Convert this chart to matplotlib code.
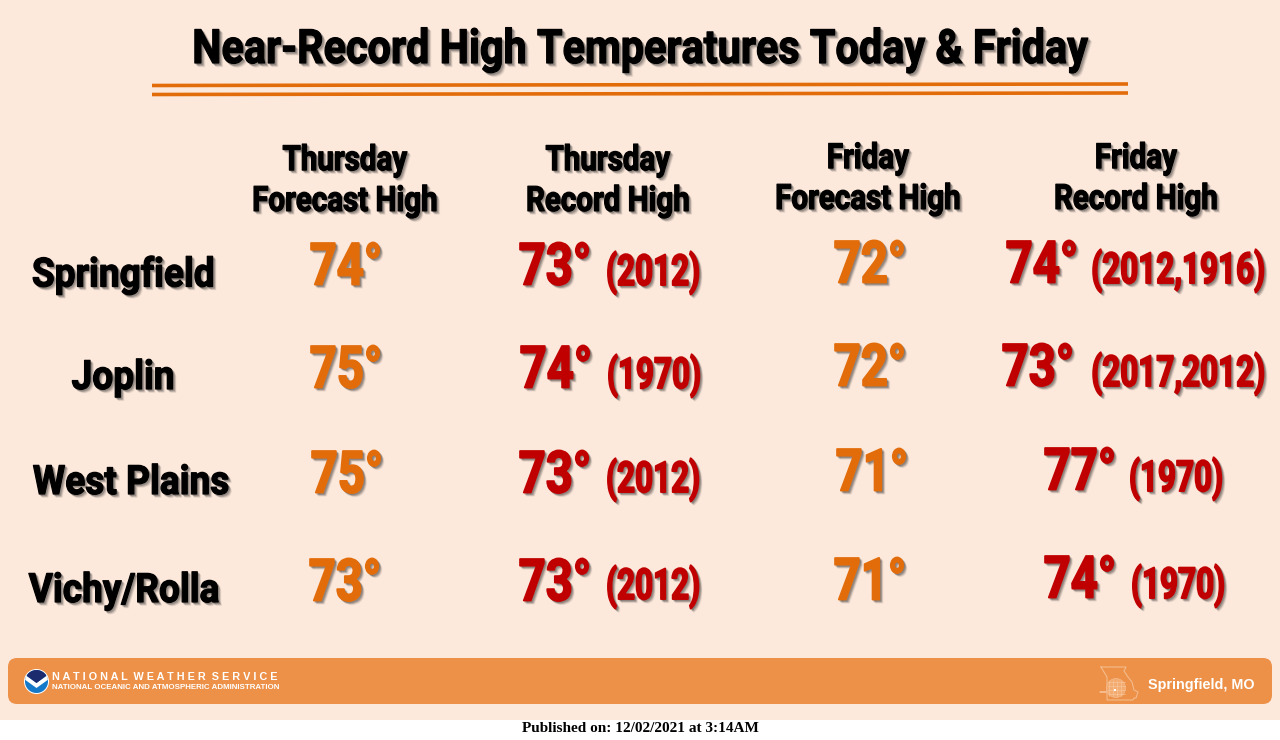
import matplotlib
matplotlib.use('Agg')
import matplotlib.pyplot as plt
from matplotlib.patches import FancyBboxPatch, Circle, Rectangle, Polygon
from matplotlib.patheffects import AbstractPathEffect
from matplotlib.text import Text
from matplotlib.transforms import Affine2D, Bbox

cities = ['Springfield', 'Joplin', 'West Plains', 'Vichy/Rolla']
thu_forecast = [74, 75, 75, 73]
thu_record = [73, 74, 73, 73]
thu_years = ['(2012)', '(1970)', '(2012)', '(2012)']
fri_forecast = [72, 72, 71, 71]
fri_record = [74, 73, 77, 74]
fri_years = ['(2012,1916)', '(2017,2012)', '(1970)', '(1970)']
headers = ['Thursday\nForecast High', 'Thursday\nRecord High', 'Friday\nForecast High', 'Friday\nRecord High']

BG = '#fde9dc'
ORANGE = '#e36c0a'
RED = '#c00000'
BAR = '#ed9148'
FONT = ['Roboto', 'DejaVu Sans']

fig = plt.figure(figsize=(12.8, 7.4), dpi=100, facecolor='white')
ax = fig.add_axes([0, 0, 1, 1])
ax.set_xlim(0, 1280)
ax.set_ylim(740, 0)
ax.axis('off')
ax.add_patch(Rectangle((0, 0), 1280, 720, fc=BG, ec='none', zorder=0))


class NarrowShadow(AbstractPathEffect):
    # squeezes the glyphs sideways (no condensed font here) and adds a soft drop shadow
    def __init__(self, cx, squeeze, off, bold):
        super().__init__()
        self.cx, self.squeeze, self.off, self.bold = cx, squeeze, off, bold

    def draw_path(self, renderer, gc, tpath, affine, rgbFace):
        narrow = affine + Affine2D().translate(-self.cx, 0).scale(self.squeeze, 1).translate(self.cx, 0)
        for k, alpha in ((0.7, 0.12), (1.0, 0.12), (1.35, 0.10), (1.7, 0.08), (2.1, 0.05)):
            gc0 = renderer.new_gc()
            gc0.copy_properties(gc)
            gc0.set_linewidth(self.bold)
            gc0.set_alpha(alpha)
            gc0.set_foreground('#222222')
            shifted = narrow + Affine2D().translate(self.off * k, -self.off * k)
            renderer.draw_path(gc0, tpath, shifted, (0.13, 0.13, 0.13))
            gc0.restore()
        gc1 = renderer.new_gc()
        gc1.copy_properties(gc)
        gc1.set_linewidth(self.bold)
        gc1.set_foreground(rgbFace)
        renderer.draw_path(gc1, tpath, narrow, rgbFace)
        gc1.restore()


class NarrowText(Text):
    # reports the squeezed extent, not the one of the unsqueezed font
    def get_window_extent(self, renderer=None, dpi=None):
        bb = super().get_window_extent(renderer, dpi)
        cx = self.get_transform().transform(self.get_position())[0]
        return Bbox.from_extents(cx + (bb.x0 - cx) * self.squeeze, bb.y0, cx + (bb.x1 - cx) * self.squeeze, bb.y1)


def label(x, y, s, size, squeeze, color='black', off=1.6, bold=0.9, spacing=1.1):
    t = NarrowText(x, y, s, fontsize=size, color=color, ha='center', va='center', family=FONT, weight='bold',
                   linespacing=spacing)
    t.squeeze = squeeze
    ax.add_artist(t)
    cx = ax.transData.transform((x, y))[0]
    t.set_path_effects([NarrowShadow(cx, squeeze, off, bold)])
    return t


label(640, 50, 'Near-Record High Temperatures Today & Friday', 34, 0.876, off=1.8)
ax.plot([152, 1128], [85.5, 84], color=ORANGE, lw=2.6, solid_capstyle='butt')
ax.plot([152, 1128], [94.5, 93], color=ORANGE, lw=2.6, solid_capstyle='butt')

header_x = [345, 608, 868, 1136]
header_y = [181, 181, 179, 179]
for x, y, s in zip(header_x, header_y, headers):
    label(x, y, s, 25, 0.85, spacing=1.3)

city_x = [123, 123, 131, 124]
city_y = [275, 378, 483, 591]
for x, y, s in zip(city_x, city_y, cities):
    label(x, y, s, 29, 0.92)

# forecast columns
tf_x = [346, 346, 347, 345]
tf_y = [269, 372, 477, 585]
ff_x = [870, 870, 872, 870]
ff_y = [267, 370, 475, 584]
for x, y, v in zip(tf_x, tf_y, thu_forecast):
    label(x, y, f'{v}°', 42, 0.81, ORANGE, bold=1.3)
for x, y, v in zip(ff_x, ff_y, fri_forecast):
    label(x, y, f'{v}°', 42, 0.81, ORANGE, bold=1.3)

# record columns
tr_x = [555, 556, 555, 555]
tr_y = [269, 372, 477, 585]
ty_x = [653, 654, 653, 653]
ty_y = [273, 376, 480, 587]
for x, y, v in zip(tr_x, tr_y, thu_record):
    label(x, y, f'{v}°', 42, 0.81, RED, bold=1.3)
for x, y, s in zip(ty_x, ty_y, thu_years):
    label(x, y, s, 31, 0.73, RED, bold=1.2)

fr_x = [1042, 1038, 1080, 1080]
fr_y = [267, 370, 474, 582]
fy_x = [1178, 1178, 1176, 1178]
fy_y = [271, 374, 479, 586]
for x, y, v in zip(fr_x, fr_y, fri_record):
    label(x, y, f'{v}°', 42, 0.81, RED, bold=1.3)
for x, y, s in zip(fy_x, fy_y, fri_years):
    label(x, y, s, 31, 0.73, RED, bold=1.2)

# footer bar
ax.add_patch(FancyBboxPatch((8, 658), 1264, 46, boxstyle='round,pad=0,rounding_size=9', fc=BAR, ec='none', zorder=1))

# NOAA logo
ax.add_patch(Circle((36.5, 681.5), 12.5, fc='white', ec='none', zorder=2))
logo_clip = Circle((36.5, 681.5), 11.5, transform=ax.transData)
blue = Rectangle((24, 669), 25, 25, fc='#1479c9', ec='none', zorder=3)
ax.add_patch(blue)
blue.set_clip_path(logo_clip)
swoosh = Polygon([[24, 674], [36.5, 683], [49, 674], [49, 679], [36.5, 688], [24, 679]], fc='white', ec='none', zorder=4)
ax.add_patch(swoosh)
swoosh.set_clip_path(logo_clip)
navy = Polygon([[27, 669], [46, 669], [46, 676], [36.5, 683], [27, 676]], fc='#1c2a6e', ec='none', zorder=5)
ax.add_patch(navy)
navy.set_clip_path(logo_clip)

ax.text(52, 676.5, 'N A T I O N A L  W E A T H E R  S E R V I C E', fontsize=7.85, color='white',
        family=['Liberation Sans'], weight='bold', va='center', ha='left')
ax.text(52, 687.5, 'NATIONAL OCEANIC AND ATMOSPHERIC ADMINISTRATION', fontsize=5.65, color='white',
        family=['Liberation Sans'], weight='bold', va='center', ha='left')

# Missouri outline and county grid
mo_x = [1101, 1126, 1124, 1128, 1132, 1134, 1138, 1136, 1134, 1133, 1107, 1107, 1100, 1107, 1107, 1101]
mo_y = [667, 667, 671, 677, 682, 690, 692, 698, 698, 700, 700, 692, 692, 692, 677, 667]
ax.plot(mo_x, mo_y, color='#f5bb8c', lw=0.8, zorder=2)
ax.add_patch(Circle((1116, 688), 9.5, fc='#f3ab70', ec='#f5bb8c', lw=0.5, zorder=2))
for gx in range(1109, 1125, 4):
    ax.plot([gx, gx], [681, 696], color='#f7c9a0', lw=0.4, zorder=3)
for gy in range(682, 697, 4):
    ax.plot([1108, 1125], [gy, gy], color='#f7c9a0', lw=0.4, zorder=3)
ax.add_patch(Rectangle((1113.5, 688.5), 2, 2, fc='white', ec='none', zorder=4))

ax.text(1147.5, 685.5, 'Springfield, MO', fontsize=10.4, color='white', family=['Liberation Sans'],
        weight='bold', va='center', ha='left')

ax.text(640, 729, 'Published on: 12/02/2021 at 3:14AM', fontsize=11, color='black', family=['Liberation Serif'],
        weight='bold', va='center', ha='center')

fig.savefig('out.png', dpi=100, facecolor=fig.get_facecolor())
